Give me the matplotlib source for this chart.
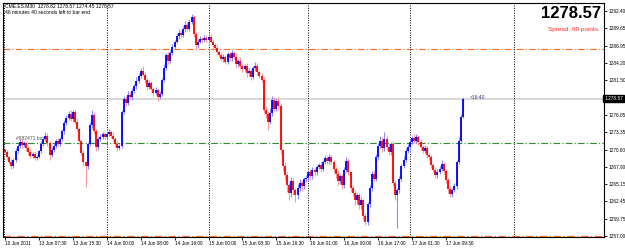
import numpy as np
import matplotlib
matplotlib.use("Agg")
import matplotlib.pyplot as plt

# ---------------- data ----------------
closes = [
    1270.2, 1269.4, 1268.6, 1268.0, 1269.0, 1270.4, 1271.2, 1271.8, 1271.3, 1271.6,
    1270.8, 1270.2, 1269.6, 1269.9, 1269.3, 1269.5, 1270.4, 1271.5, 1272.3, 1272.8,
    1271.6, 1269.8, 1270.5, 1271.2, 1271.9, 1271.5, 1272.2, 1273.5, 1274.8, 1275.6,
    1276.2, 1275.4, 1276.5, 1275.0, 1273.8, 1272.0, 1270.1, 1268.6, 1268.0, 1271.5,
    1274.4, 1276.0, 1273.5, 1271.0, 1272.2, 1272.6, 1273.0, 1272.6,
    1273.0, 1273.4, 1272.8, 1272.2, 1271.5, 1270.8, 1271.2, 1276.5, 1278.6, 1278.0,
    1279.2, 1278.8, 1279.8, 1280.6, 1281.4, 1282.2, 1283.0, 1282.4, 1281.6, 1280.4,
    1281.0, 1280.2, 1279.5, 1280.0, 1278.8, 1279.4, 1281.5, 1283.5, 1285.4, 1284.6,
    1285.8, 1286.8, 1287.6, 1288.4, 1289.0, 1288.6, 1289.5, 1290.2, 1289.6, 1290.6,
    1291.4, 1288.8, 1287.0, 1287.6, 1288.0, 1287.8, 1288.2,
    1287.8, 1288.3, 1287.6, 1287.0, 1286.6, 1286.0, 1285.5, 1284.8, 1285.2, 1284.4,
    1285.6, 1285.0, 1285.8, 1285.2, 1284.0, 1284.6, 1283.8, 1283.2, 1283.8, 1282.6,
    1283.0, 1282.0, 1283.4, 1283.8, 1282.8, 1282.2, 1281.6, 1276.8, 1276.2, 1275.0,
    1276.4, 1278.4, 1277.0, 1278.2, 1277.4, 1270.5, 1268.0, 1266.6, 1265.0, 1263.8,
    1265.6, 1264.2, 1263.4, 1264.6, 1265.4, 1264.8, 1266.0,
    1266.2, 1267.0, 1266.4, 1267.4, 1267.0, 1267.8, 1268.2, 1267.6, 1268.6, 1269.2,
    1268.8, 1269.4, 1268.6, 1267.6, 1266.8, 1265.6, 1266.4, 1265.0, 1267.4, 1268.8,
    1267.0, 1264.6, 1263.8, 1262.6, 1263.4, 1261.8, 1262.6, 1260.2, 1259.2, 1262.0,
    1264.6, 1266.8, 1266.0, 1269.4, 1271.2, 1272.0, 1270.8, 1272.2, 1271.0, 1270.2,
    1271.4, 1265.4, 1263.4, 1264.2, 1266.0, 1268.0, 1269.0, 1270.4,
    1271.0, 1271.8, 1272.4, 1272.0, 1272.6, 1271.8, 1271.0, 1270.4, 1270.8, 1269.8,
    1269.4, 1268.2, 1267.4, 1266.6, 1267.0, 1267.6, 1268.4, 1267.2, 1265.8, 1264.4,
    1263.6, 1264.2, 1264.8, 1268.6, 1272.0, 1275.8, 1278.57,
]
first_open = 1270.6

upper_wick = [
    0.3, 0.4, 0.2, 0.5, 0.3, 0.4, 0.3, 0.5, 0.4, 0.3,
    0.4, 0.3, 0.5, 0.3, 0.4, 0.3, 0.2, 0.4, 0.3, 0.6,
    0.4, 0.3, 0.5, 0.4, 0.3, 0.5, 0.4, 0.3, 0.4, 0.5,
    0.4, 0.6, 0.4, 0.3, 0.5, 0.4, 0.3, 0.4, 0.2, 0.3,
    0.6, 0.8, 0.5, 0.4, 0.3, 0.5, 0.3, 0.4,
    0.3, 0.4, 0.3, 0.5, 0.3, 0.4, 0.2, 0.3, 0.5, 0.4,
    0.6, 0.4, 0.5, 0.3, 0.6, 0.4, 0.5, 0.7, 0.4, 0.3,
    0.5, 0.4, 0.3, 0.4, 0.3, 0.4, 0.3, 0.5, 0.4, 0.6,
    0.5, 0.4, 0.3, 0.5, 0.6, 0.4, 0.5, 0.6, 0.4, 0.5,
    0.6, 0.4, 0.3, 0.4, 0.5, 0.3, 0.4,
    0.4, 0.3, 0.5, 0.4, 0.3, 0.4, 0.3, 0.5, 0.4, 0.3,
    0.4, 0.3, 0.5, 0.3, 0.4, 0.3, 0.5, 0.4, 0.3, 0.4,
    0.5, 0.3, 0.4, 0.5, 0.4, 0.3, 0.5, 0.4, 0.6, 0.5,
    0.8, 0.6, 0.4, 0.5, 0.6, 0.5, 0.4, 0.6, 0.5, 0.4,
    0.7, 0.5, 0.4, 0.6, 0.5, 0.4, 0.3,
    0.4, 0.3, 0.5, 0.4, 0.3, 0.4, 0.3, 0.5, 0.4, 0.6,
    0.4, 0.5, 0.3, 0.4, 0.3, 0.5, 0.4, 0.3, 0.5, 0.6,
    0.4, 0.3, 0.5, 0.4, 0.3, 0.4, 0.5, 0.3, 0.4, 0.3,
    0.5, 0.4, 0.6, 0.5, 0.4, 0.8, 0.6, 1.2, 0.5, 0.6,
    0.4, 0.5, 0.3, 0.4, 0.5, 0.4, 0.6, 0.5,
    0.4, 0.5, 0.3, 0.6, 0.4, 0.3, 0.4, 0.3, 0.5, 0.4,
    0.3, 0.4, 0.3, 0.4, 0.5, 0.4, 0.5, 0.3, 0.4, 0.3,
    0.4, 0.3, 0.5, 0.4, 0.5, 0.4, 0.3,
]
lower_wick = [
    0.4, 0.5, 0.3, 0.4, 0.3, 0.3, 0.4, 0.3, 0.5, 0.3,
    0.4, 0.5, 0.3, 0.4, 0.3, 0.4, 0.3, 0.4, 0.3, 0.4,
    0.5, 0.8, 0.4, 0.3, 0.4, 0.3, 0.4, 0.3, 0.4, 0.3,
    0.4, 0.3, 0.5, 0.4, 0.3, 0.5, 0.4, 0.6, 3.3, 0.4,
    0.3, 0.4, 0.5, 0.6, 0.4, 0.3, 0.4, 0.3,
    0.4, 0.3, 0.4, 0.3, 0.5, 0.4, 0.3, 0.4, 0.3, 0.5,
    0.4, 0.3, 0.4, 0.3, 0.4, 0.3, 0.4, 0.3, 0.5, 0.4,
    0.3, 0.4, 0.5, 0.3, 0.6, 0.3, 0.4, 0.3, 0.4, 0.5,
    0.4, 0.3, 0.4, 0.3, 0.4, 0.5, 0.3, 0.4, 0.3, 0.4,
    0.3, 0.5, 0.8, 0.4, 0.3, 0.4, 0.3,
    0.3, 0.4, 0.3, 0.5, 0.4, 0.3, 0.4, 0.3, 0.5, 0.4,
    0.3, 0.4, 0.5, 0.3, 0.6, 0.4, 0.5, 0.4, 0.3, 0.6,
    0.4, 0.5, 0.3, 0.4, 0.5, 0.4, 0.3, 0.5, 0.6, 1.4,
    0.4, 0.5, 0.4, 0.3, 0.5, 0.6, 0.7, 0.8, 1.0, 1.2,
    0.6, 0.8, 1.0, 0.6, 0.5, 0.7, 0.4,
    0.5, 0.4, 0.6, 0.4, 0.5, 0.4, 0.3, 0.5, 0.4, 0.3,
    0.5, 0.4, 0.3, 0.5, 0.6, 0.5, 0.4, 0.6, 0.4, 0.3,
    0.4, 0.6, 0.5, 0.7, 0.5, 0.6, 0.5, 0.7, 0.4, 0.5,
    0.4, 0.5, 0.4, 0.3, 0.5, 0.4, 0.6, 0.4, 0.5, 0.4,
    0.5, 0.6, 0.7, 5.2, 0.5, 0.4, 0.3, 0.4,
    0.3, 0.4, 0.3, 0.4, 0.3, 0.5, 0.4, 0.3, 0.4, 0.5,
    0.4, 0.5, 0.4, 0.5, 0.4, 0.3, 0.4, 0.5, 0.4, 0.6,
    0.5, 0.4, 0.3, 0.4, 0.3, 0.4, 0.3,
]

x_tick_bars = [0, 16, 32, 48, 64, 80, 96, 112, 128, 144, 160, 176, 192, 208]
x_tick_labels = ['10 Jun 2011', '13 Jun 07:30', '13 Jun 15:30', '14 Jun 00:00',
                 '14 Jun 08:00', '14 Jun 16:00', '15 Jun 00:00', '15 Jun 08:30',
                 '15 Jun 16:30', '16 Jun 01:00', '16 Jun 09:00', '16 Jun 17:00',
                 '17 Jun 01:30', '17 Jun 09:30']
# 1278.80 tick is hidden behind the current price marker in the reference
y_ticks = [1292.40, 1289.65, 1286.95, 1284.20, 1281.50, 1278.80, 1276.05,
           1273.35, 1270.60, 1267.90, 1265.15, 1262.45, 1259.75, 1257.00]
y_tick_labels = ['1292.40', '1289.65', '1286.95', '1284.20', '1281.50', '',
                 '1276.05', '1273.35', '1270.60', '1267.90', '1265.15',
                 '1262.45', '1259.75', '1257.00']
day_separators = [-0.3, 48, 96, 143, 191, 240]
current_price = 1278.57
tp_level = 1286.4
order_level = 1271.6
bottom_level = 1256.95

# ---------------- build candles ----------------
n = min(len(closes), len(upper_wick), len(lower_wick))
c = np.array(closes[:n])
o = np.concatenate([[first_open], c[:-1]])
hi = np.maximum(o, c) + np.array(upper_wick[:n])
lo = np.minimum(o, c) - np.array(lower_wick[:n])
x = np.arange(n)
up = c >= o

W, H = 625, 248
fig = plt.figure(figsize=(W / 100, H / 100), dpi=100)
fig.patch.set_facecolor('white')
L, R, T, B = 3, 604, 3, 237
ax = fig.add_axes([L / W, 1 - B / H, (R - L) / W, (B - T) / H])
ax.set_facecolor('white')

spacing = 2.12
x0_px = 5
ax.set_xlim(-(x0_px - L) / spacing, (R - x0_px) / spacing)
ppx = (1292.40 - 1257.00) / (236 - 11)
ax.set_ylim(1257.00 - (B - 236) * ppx, 1292.40 + (11 - T) * ppx)

# level lines
ax.axhline(current_price, color='#d9d9d9', lw=1.5, zorder=1)
ax.axhline(tp_level, color='#ff6a1a', lw=0.8, ls=(0, (6, 2, 1, 2)), zorder=1)
ax.axhline(order_level, color='#2e8b2e', lw=0.8, ls=(0, (6, 2, 1, 2)), zorder=1)
ax.axhline(bottom_level, color='#ff6a1a', lw=0.9, ls=(0, (6, 2, 1, 2)), zorder=1)
for s in day_separators:
    ax.axvline(s, color='black', lw=0.7, ls=(0, (1, 1.5)), zorder=1)

# candles
ax.vlines(x[up], lo[up], hi[up], color='#8c8cf5', lw=0.8, zorder=3)
ax.vlines(x[~up], lo[~up], hi[~up], color='#ff9a9a', lw=0.8, zorder=3)
ax.vlines(x[up], o[up], c[up], color='#0000ff', lw=1.3, zorder=4)
ax.vlines(x[~up], c[~up], o[~up], color='#ff0000', lw=1.3, zorder=4)

# axes styling
fs = 3.4
for sp in ax.spines.values():
    sp.set_color('black')
    sp.set_linewidth(0.8)
ax.yaxis.tick_right()
ax.set_yticks(y_ticks)
ax.set_yticklabels(y_tick_labels)
ax.tick_params(axis='y', length=2, width=0.6, pad=1.2, labelsize=fs, colors='black')
ax.set_xticks(x_tick_bars)
ax.set_xticklabels(x_tick_labels, ha='left')
ax.tick_params(axis='x', length=2, width=0.6, pad=1.0, labelsize=fs, colors='black')
for lbl in ax.get_xticklabels() + ax.get_yticklabels():
    lbl.set_family('Liberation Sans')

# current price label on axis
ax.text(1.0, current_price, f' {current_price:.2f}', transform=ax.get_yaxis_transform(),
        ha='left', va='center', fontsize=fs, color='white', family='Liberation Sans',
        bbox=dict(boxstyle='square,pad=0.2', fc='black', ec='black'), zorder=10,
        clip_on=False)

def ftext(px, py, s, **kw):
    fig.text(px / W, 1 - py / H, s, **kw)

ftext(5, 6.5, 'CME.ES.M30  1278.82 1278.57 1274.45 1278.57', fontsize=3.6,
      va='center', ha='left', family='Liberation Sans', color='black')
ftext(5, 13.0, '46 minutes 40 seconds left to bar end', fontsize=3.6,
      va='center', ha='left', family='Liberation Sans', color='black')
ftext(601, 14, f'{current_price:.2f}', fontsize=12, fontweight='bold',
      va='center', ha='right', family='Liberation Sans', color='black')
ftext(600, 29, 'Spread: 60 points.', fontsize=4.6, va='center', ha='right',
      family='Liberation Sans', color='#ff2a2a')
ax.text(5, order_level + 0.35, '#882471 buy', fontsize=3.6, va='bottom', ha='left',
        family='Liberation Sans', color='#555555', zorder=2)
ax.text(x[-1] + 3, current_price + 0.25, '<16:40', fontsize=3.6, va='center',
        ha='left', family='Liberation Sans', color='#3c3c78', zorder=5)

fig.savefig('out.png', dpi=100, facecolor='white')
